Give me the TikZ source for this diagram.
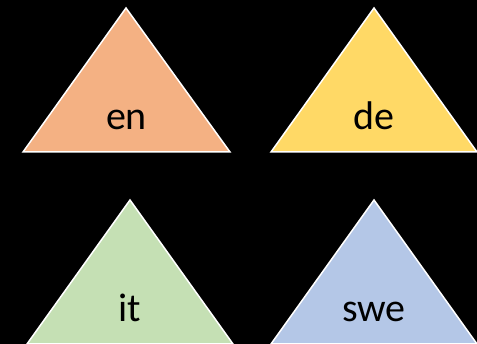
\documentclass[tikz,border=0pt]{standalone}
\usepackage{fontspec}
\setmainfont{Carlito}
\definecolor{enc}{HTML}{F4B183}
\definecolor{dec}{HTML}{FFD966}
\definecolor{itc}{HTML}{C5E0B4}
\definecolor{swec}{HTML}{B4C7E7}
\begin{document}
\begin{tikzpicture}[x=1pt,y=1pt,
  tri/.style={draw=white,line width=1.5pt,line join=miter},
  lbl/.style={anchor=base,font=\fontsize{40}{44}\selectfont,text=black,inner sep=0pt}]
\fill[black] (0,0) rectangle (477,344);
\useasboundingbox (0,0) rectangle (477,344);
% top-left
\filldraw[tri,fill=enc] (126,336) -- (230,192) -- (23,192) -- cycle;
\node[lbl] (en) at (126.5,214) {en};
% top-right
\filldraw[tri,fill=dec] (374,336) -- (477,192) -- (271,192) -- cycle;
\node[lbl] (de) at (374,214) {de};
% bottom-left
\filldraw[tri,fill=itc] (130,144) -- (233,0) -- (27,0) -- cycle;
\node[lbl] (it) at (130,22) {it};
% bottom-right
\filldraw[tri,fill=swec] (374,144) -- (477,0) -- (271,0) -- cycle;
\node[lbl] (swe) at (374,22) {swe};
\end{tikzpicture}
\end{document}
